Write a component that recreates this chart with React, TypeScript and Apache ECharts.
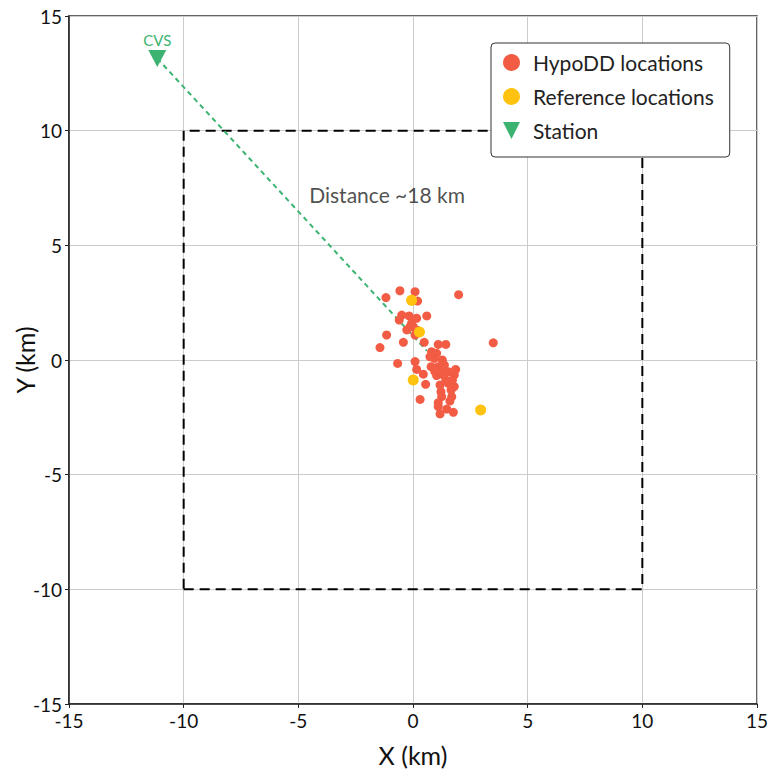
import React, { useEffect, useRef } from "react";
import * as echarts from "echarts";

const hypoDD: [number, number][] = [
  [-0.57, 3.02], [0.09, 2.98], [-1.18, 2.72], [0.2, 2.57], [1.99, 2.85],
  [-0.49, 1.96], [-0.17, 1.92], [0.16, 1.82], [0.6, 1.92], [-0.6, 1.74],
  [-0.06, 1.6], [-0.27, 1.31], [0.01, 1.45], [0.16, 1.31], [-0.13, 1.45],
  [-1.15, 1.09], [0.09, 1.09], [-0.42, 0.77], [0.49, 0.77], [-1.44, 0.54],
  [1.1, 0.68], [1.43, 0.68], [3.5, 0.75],
  [0.81, 0.36], [1.03, 0.29], [0.93, 0.07], [1.28, 0.0], [0.09, -0.07],
  [-0.67, -0.15], [0.79, -0.29], [1.1, -0.29], [1.37, -0.22], [0.16, -0.41],
  [1.86, -0.41], [1.54, -0.51], [0.45, -0.62], [1.03, -0.68], [1.32, -0.65],
  [1.8, -0.65], [1.43, -0.87], [1.72, -0.87], [0.55, -1.06], [1.18, -1.09],
  [1.54, -1.02], [1.8, -1.16], [1.22, -1.38], [1.66, -1.31], [1.69, -1.6],
  [1.25, -1.6], [1.61, -1.79], [0.31, -1.72], [1.1, -1.86], [1.1, -2.03],
  [1.47, -2.14], [1.18, -2.35], [1.76, -2.28],
  [0.74, 0.14], [1.2, -0.45], [1.65, -0.95], [0.95, -0.5],
];

const referenceLocs: [number, number][] = [
  [-0.06, 2.6], [0.28, 1.22], [0.01, -0.87], [2.95, -2.18],
];

const station: [number, number] = [-11.15, 13.15];
const stationName = "CVS";
const clusterCenter: [number, number] = [0.6, 0.4];

const boxCorners: [number, number][] = [
  [-10, -10], [10, -10], [10, 10], [-10, 10], [-10, -10],
];

const distanceLabelPos: [number, number] = [-1.13, 7.2];
const distanceLabel = "Distance ~18 km";

const axisMin = -15;
const axisMax = 15;
const axisInterval = 5;

const RED = "#f25c44";
const YELLOW = "#ffc20e";
const GREEN = "#3cb371";
const FONT = "Lato";
const TRI = "path://M0,0 L10,0 L5,10 Z";

export default function App() {
  const ref = useRef<HTMLDivElement>(null);
  useEffect(() => {
    if (!ref.current) return;
    const chart = echarts.init(ref.current, undefined, { renderer: "svg" });
    const axisCommon = {
      type: "value" as const,
      min: axisMin,
      max: axisMax,
      interval: axisInterval,
      nameLocation: "middle" as const,
      nameMoveOverlap: false,
      nameTextStyle: { fontFamily: FONT, fontSize: 25, color: "#111" },
      axisLine: { show: true, onZero: false, lineStyle: { color: "#222", width: 1.5 } },
      axisTick: { show: true, inside: false, length: 4, lineStyle: { color: "#222" } },
      axisLabel: { fontFamily: FONT, fontSize: 19, color: "#111", margin: 7 },
      splitLine: { show: true, lineStyle: { color: "#cccccc", width: 1 } },
    };
    chart.setOption({
      animation: false,
      backgroundColor: "#ffffff",
      textStyle: { fontFamily: FONT },
      grid: {
        left: 69,
        right: 11,
        top: 16,
        bottom: 65,
        containLabel: false,
        outerBoundsMode: "none",
        show: true,
        borderColor: "#333",
        borderWidth: 1.5,
        backgroundColor: "transparent",
      },
      xAxis: { ...axisCommon, name: "X (km)", nameGap: 38 },
      yAxis: { ...axisCommon, name: "Y (km)", nameGap: 32 },
      legend: {
        left: 491,
        top: 43,
        orient: "vertical",
        padding: [9, 16, 16, 12],
        itemGap: 13,
        itemWidth: 17,
        itemHeight: 17,
        backgroundColor: "#ffffff",
        borderColor: "#333",
        borderWidth: 1,
        borderRadius: 4,
        textStyle: {
          fontFamily: FONT,
          fontSize: 21,
          lineHeight: 21,
          color: "#222",
          padding: [0, 0, 0, 8],
        },
        data: [
          { name: "HypoDD locations", icon: "circle" },
          { name: "Reference locations", icon: "circle" },
          { name: "Station", icon: TRI },
        ],
      },
      series: [
        {
          type: "line",
          name: "box",
          data: boxCorners,
          symbol: "none",
          silent: true,
          lineStyle: { color: "#000", width: 2, type: [10, 6] },
          z: 2,
        },
        {
          type: "line",
          name: "path",
          data: [station, clusterCenter],
          symbol: "none",
          silent: true,
          lineStyle: { color: GREEN, width: 2, type: [5, 4] },
          z: 3,
        },
        {
          type: "scatter",
          name: "HypoDD locations",
          data: hypoDD,
          symbol: "circle",
          symbolSize: 9,
          itemStyle: { color: RED, opacity: 1 },
          z: 4,
        },
        {
          type: "scatter",
          name: "Reference locations",
          data: referenceLocs,
          symbol: "circle",
          symbolSize: 11,
          itemStyle: { color: YELLOW, opacity: 1 },
          z: 5,
        },
        {
          type: "scatter",
          name: "Station",
          data: [{ value: station, name: stationName }],
          symbol: TRI,
          symbolSize: [18, 17],
          itemStyle: { color: GREEN, opacity: 1 },
          label: {
            show: true,
            position: "top",
            distance: 2,
            formatter: stationName,
            color: GREEN,
            fontFamily: FONT,
            fontSize: 15,
          },
          z: 6,
        },
        {
          type: "scatter",
          name: "annotation",
          data: [distanceLabelPos],
          symbolSize: 0,
          silent: true,
          label: {
            show: true,
            position: "inside",
            formatter: distanceLabel,
            color: "#222",
            fontFamily: FONT,
            fontSize: 21,
          },
          z: 7,
        },
      ],
    });
    return () => chart.dispose();
  }, []);
  return (
    <div
      ref={ref}
      style={{ position: "fixed", left: 0, top: 0, width: 768, height: 769 }}
    />
  );
}
